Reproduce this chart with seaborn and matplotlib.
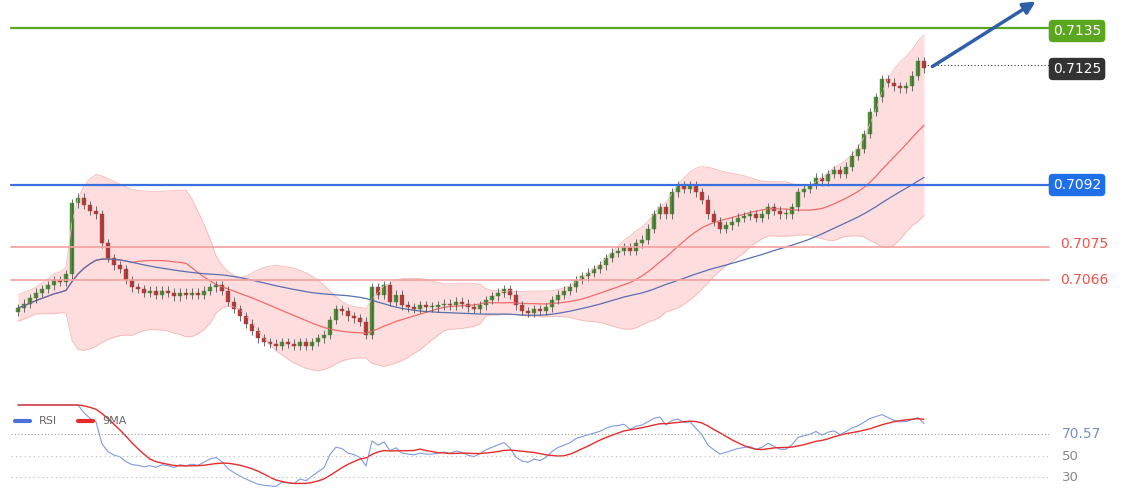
import numpy as np
import pandas as pd
import matplotlib.pyplot as plt
import seaborn as sns

# closes in pips above 0.7000, one per candle
closes = [58.3, 59.5, 61, 62.5, 63.5, 64.5, 66, 65.5, 67.5, 87,
          88.5, 86.5, 85, 84, 76, 72, 70, 69, 66, 64,
          63.5, 62.5, 63, 62, 63, 62.5, 61.5, 62.5, 62, 62.5,
          62, 63, 64, 64.5, 63, 60, 58, 56, 54, 52,
          50, 49, 48.5, 48, 49, 48.5, 48, 49, 48, 49,
          50, 51, 55, 58, 57.5, 56, 55.5, 54.5, 51, 64,
          62, 64.5, 60, 62, 59, 58.5, 58, 59, 58.5, 58.5,
          59, 59.5, 59, 60, 59.5, 58.5, 58, 59, 60.5, 61.5,
          62.5, 63.5, 62, 59, 57.5, 57, 58, 57.5, 58.5, 60.5,
          62, 63, 64, 66, 67, 68, 69, 70, 72, 73.5,
          74, 75, 74, 76, 77, 80, 84, 86, 84, 90,
          92, 91, 92, 90, 88, 84, 82, 80, 81, 82,
          83, 83.5, 84, 83, 84, 86, 85, 84, 84, 86,
          90, 91, 92, 94, 93, 95, 96, 95, 97, 100,
          102, 106, 112, 116, 121, 120, 119, 118.5, 119, 122,
          126, 124]
levels = [0.7135, 0.7092, 0.7075, 0.7066]
level_colors = ["#5aa61e", "#3a6fe0", "#f4a0a0", "#f4a0a0"]
last_price = 0.7125
rsi_last = 70.57
rsi_ticks = [50, 30]

c = pd.Series(closes) / 10000 + 0.70
o = c.shift(1).fillna(c.iloc[0] - 0.0001)
idx = np.arange(len(c))
df = pd.DataFrame({"i": idx, "close": c, "open": o})
df["ma20"] = c.rolling(20, min_periods=1).mean()
df["ma50"] = c.rolling(50, min_periods=1).mean()
sd = c.rolling(20, min_periods=4).std().bfill()
df["up"] = df["ma20"] + 2 * sd
df["lo"] = df["ma20"] - 2 * sd

delta = c.diff().fillna(0)
gain = delta.clip(lower=0).ewm(alpha=1 / 14, adjust=False).mean()
loss = (-delta.clip(upper=0)).ewm(alpha=1 / 14, adjust=False).mean()
rsi = 100 - 100 / (1 + gain / loss.replace(0, 1e-9))
rsi[:10] = np.nan
df["rsi"] = rsi.bfill()
df["rsi9"] = df["rsi"].rolling(9, min_periods=1).mean()

sns.set_style("white")
fig = plt.figure(figsize=(11.4, 5), dpi=100)
ax = fig.add_axes([0, 0.23, 1, 0.77])
ax2 = fig.add_axes([0, 0.01, 1, 0.2])
xmin, xmax = -3, 187
p = lambda y: 0.7092 + (185 - y) / 3.65 * 0.0001

ax.fill_between(df["i"], df["lo"], df["up"], color="#fdd5d5", alpha=0.8, lw=0)
sns.lineplot(data=df, x="i", y="up", ax=ax, color="#f7b8b8", lw=0.6)
sns.lineplot(data=df, x="i", y="lo", ax=ax, color="#f7b8b8", lw=0.6)
sns.lineplot(data=df, x="i", y="ma20", ax=ax, color="#f26b6b", lw=0.9)
sns.lineplot(data=df, x="i", y="ma50", ax=ax, color="#5a6fb0", lw=0.9)

bull = (df["close"] >= df["open"]).to_numpy()
colors = list(np.where(bull, "#3f9a1f", "#e02b2b"))
body = (df["close"] - df["open"]).abs().clip(lower=0.00003)
bottom = np.minimum(df["close"], df["open"])
ax.vlines(df["i"], bottom - 0.00012, bottom + body + 0.00012, color="#555", lw=0.6)
ax.bar(df["i"], body, bottom=bottom, width=0.75, color=colors, edgecolor=colors, lw=0.3)

for lv, col in zip(levels, level_colors):
    ax.axhline(lv, xmin=0.01, xmax=0.92, color=col, lw=1.6 if lv in (0.7135, 0.7092) else 1.2)
for lv, col, y in [(0.7135, "#5aa61e", p(31)), (0.7092, "#1f6fe8", p(185))]:
    ax.text(176.5, y, f"{lv:.4f}", color="white", fontsize=10, va="center", ha="center",
            bbox=dict(boxstyle="round,pad=0.3", fc=col, ec="none"))
for lv, y in [(0.7075, p(244)), (0.7066, p(280))]:
    ax.text(173.7, y, f"{lv:.4f}", color="#e8554e", fontsize=10, va="center")
ax.plot([idx[-1], 172], [last_price, last_price], ls=(0, (1, 2)), color="#333", lw=0.8)
ax.text(176.5, p(69), f"{last_price:.4f}", color="white", fontsize=10, va="center", ha="center",
        bbox=dict(boxstyle="round,pad=0.3", fc="#333333", ec="none"))
ax.annotate("", xy=(170, p(0)), xytext=(152, p(68)),
            arrowprops=dict(arrowstyle="-|>", color="#2f5fa8", lw=2.5, mutation_scale=18))
ax.set_xlim(xmin, xmax)
ax.set_ylim(p(385), p(0))
ax.axis("off")

sns.lineplot(data=df, x="i", y="rsi", ax=ax2, color="#7f9be0", lw=0.8)
sns.lineplot(data=df, x="i", y="rsi9", ax=ax2, color="#e62b2b", lw=1.0)
for t in rsi_ticks:
    ax2.axhline(t, xmin=0.01, xmax=0.92, color="#bbb", ls=(0, (1, 3)), lw=0.8)
    ax2.text(174, t, str(t), color="#888", fontsize=9.5, va="center")
ax2.axhline(rsi_last, xmin=0.01, xmax=0.92, color="#999", ls=(0, (1, 2)), lw=0.8)
ax2.text(174, rsi_last, f"{rsi_last:.2f}", color="#7a8fc0", fontsize=10, va="center")
ax2.plot([-0.5, 2], [83, 83], color="#4a72d8", lw=3)
ax2.text(3.5, 83, "RSI", color="#666", fontsize=8, va="center")
ax2.plot([10, 12.5], [83, 83], color="#e62b2b", lw=3)
ax2.text(14, 83, "9MA", color="#666", fontsize=8, va="center")
ax2.set_xlim(xmin, xmax)
ax2.set_ylim(13, 108)
ax2.axis("off")

fig.savefig("out.png", dpi=100)
